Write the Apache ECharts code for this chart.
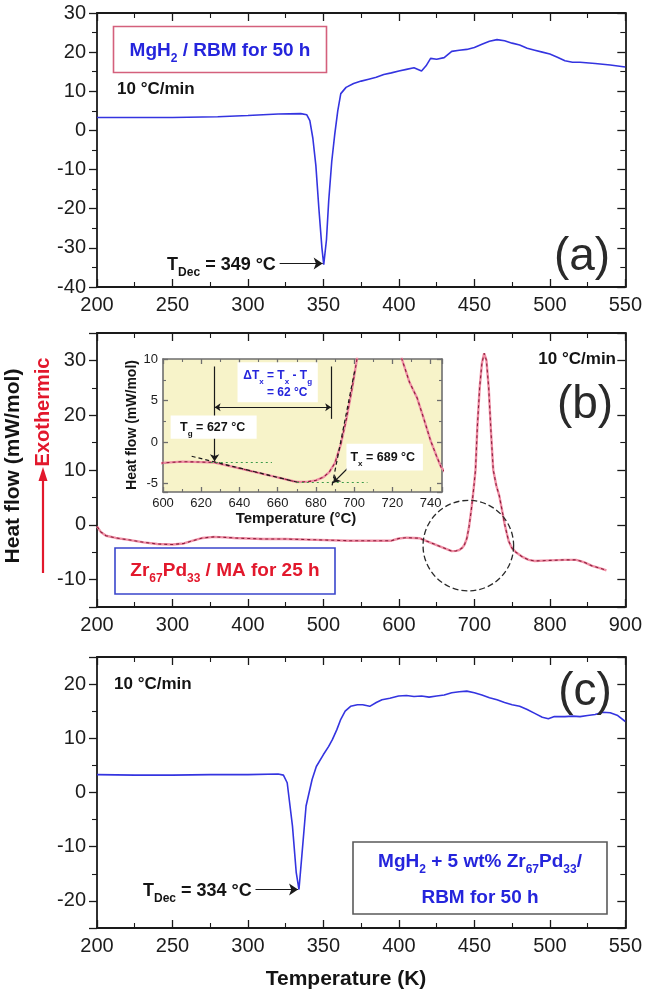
<!DOCTYPE html>
<html><head><meta charset="utf-8">
<script src="https://cdn.jsdelivr.net/npm/echarts@6/dist/echarts.min.js"></script>
<style>html,body{margin:0;padding:0;background:#fff}#c{width:645px;height:994px}</style>
</head><body><div id="c"></div>
<script>
// ---------- data ----------
// (a) MgH2 / RBM 50 h : temperature (K) vs heat flow (mW/mol)
const aTemp = [200,250,280,300,320,335,339,341,343,345,347,349,350.2,352,353.5,355.5,357.5,359.5,361.5,365,370,375,380,385,390,395,400,405,410,415,418,421,425,430,435,440,445,450,455,460,465,470,475,480,485,490,495,500,505,510,515,520,530,540,550];
const aHeat = [3.3,3.3,3.5,3.8,4.2,4.3,4.0,2.5,-2,-9,-20,-30,-34.3,-28,-18,-8,-1,5,9.4,11,12,12.6,13.1,13.6,14.3,14.7,15.2,15.6,16,15.2,16.5,18.4,18.2,18.6,20.2,20.5,20.7,21.2,22,22.8,23.2,22.9,22.3,21.8,21,20.5,20,19.5,18.7,17.8,17.4,17.4,17.1,16.7,16.2];
// (b) Zr67Pd33 / MA 25 h
const bTemp = [200,205,212,225,240,262,280,300,315,327,340,355,370,382,420,450,480,535,590,600,610,620,627,640,650,660,670,676,680,684,687,690,693,696,699,701.5,704,707,710,713,716,719,722,725,729,733,736.5,740,743,745.5,750,755,763,772,780,800,820,835,845,856,866,875];
const bHeat = [-0.3,-1.3,-2.0,-2.4,-2.7,-3.2,-3.5,-3.6,-3.4,-2.9,-2.4,-2.2,-2.3,-2.4,-2.6,-2.6,-2.7,-2.9,-2.9,-2.5,-2.35,-2.4,-2.45,-3.15,-3.7,-4.25,-4.8,-4.75,-4.6,-4.2,-3.6,-2.5,-0.3,2.8,6.5,10,18,25,29.5,31.3,30,25,17,10,7.2,5.3,2.8,0.2,-1.6,-3.0,-4.3,-5.0,-5.8,-6.4,-6.6,-6.5,-6.4,-6.4,-6.8,-7.5,-7.9,-8.3];
// (c) MgH2 + 5 wt% Zr67Pd33 / RBM 50 h
const cTemp = [200,225,250,275,300,320,323.5,326,329.5,332,333.8,335.7,338.5,342.5,345.3,350,353.5,356,358.9,361.5,364.4,368,372.5,376,380.7,385,388.8,394,399.8,405,410,415,420,425,430,435,440,445,450,455,460,465,470,475,480,485,490,495,499,503,510,515,520,525,530,535,540,545,550];
const cHeat = [3.3,3.2,3.2,3.3,3.3,3.4,3.2,1.8,-6.2,-14.8,-17.9,-11.7,-2.5,2.4,4.8,7,8.5,9.8,11.6,13.5,15,15.9,16.2,16.2,15.9,16.6,17.1,17.4,17.8,17.9,17.7,17.8,17.6,17.8,18,18.4,18.6,18.7,18.4,18,17.5,17.1,16.6,16.2,15.9,15.3,14.6,13.9,13.6,14,14,14.1,14,14.2,14.4,14.8,14.7,14.2,13.1];
// annotations (data coordinates)
const aDec = 349, cDec = 334;
const aDecArrow = [[321, -34], [349.5, -34]];
const cDecArrow = [[305, -17.9], [333.2, -17.9]];
const circleMark = [692, -3.8, 60];   // centre x, centre y, radius (K)
const tgValue = 627, txValue = 689, dTx = 62;
const tgArrow = [[627, 9.1], [627, -2.3]];
const txBar = [[688, 9.1], [688, 2.8]];
const deltaBar = [[627, 4.2], [688, 4.2]];
const tangent1 = [[615, -1.7], [670, -4.8]];
const base1 = [[625, -2.4], [657, -2.4]];
const base2 = [[670, -4.8], [707, -4.8]];
const tangent2 = [[688.5, -5.2], [700.5, 8.8]];
const txArrow = [[699, -2.6], [689, -4.9]];
// axis tick settings
const aX = {min:200, max:550, interval:50}, aY = {min:-40, max:30, interval:10};
const bX = {min:200, max:900, interval:100}, bY = {min:-15, max:35, split:5, step:10};
const cX = {min:200, max:550, interval:50}, cY = {min:-25, max:25, split:5, step:10};
const iX = {min:600, max:746, interval:20}, iY = {min:-6, max:10, split:3, step:5};

// ---------- chart ----------
const F = "'Liberation Sans', Arial, Helvetica, sans-serif";
const zip = (xs, ys) => xs.map((x, i) => [x, ys[i]]);
const chart = echarts.init(document.getElementById('c'));
const grids = [
  {left:97, top:13, width:531, height:274},
  {left:97, top:333, width:531, height:274},
  {left:97, top:657, width:531, height:271},
  {left:163, top:359, width:279, height:133, show:true, backgroundColor:'#f7f3c9', borderWidth:0, z:5}
];
const xAxes = [], yAxes = [];
function mkAxis(gi, pos, c, st, labeled) {
  const isY = pos === 'left' || pos === 'right';
  const step = c.step || c.interval;
  const ax = {
    gridIndex: gi, type: 'value', position: pos, min: c.min, max: c.max, z: st.z || 3,
    splitLine: {show: false},
    axisLine: {show: true, onZero: false, lineStyle: {color: st.color, width: st.lw}},
    axisTick: {show: true, inside: !(labeled && isY && st.outLeft), length: st.tl, lineStyle: {color: st.color, width: 1.3}},
    minorTick: {show: true, splitNumber: 2, length: st.ml, lineStyle: {color: st.color, width: 1.1}},
    axisLabel: {show: labeled, fontSize: st.fs, fontFamily: F, color: '#1c1c1c', margin: isY ? st.ym : st.xm,
      showMinLabel: true, showMaxLabel: !(st.hideMax && !isY),
      formatter: v => (Math.abs(Math.round(v / step) * step - v) < 1e-6 ? String(Math.round(v)) : '')}
  };
  if (c.interval) ax.interval = c.interval; else ax.splitNumber = c.split;
  return ax;
}
const mainSt = {color:'#1a1a1a', lw:1.8, tl:8, ml:5, fs:20, ym:11, xm:8, outLeft:true};
const insetSt = {color:'#6e6e6e', lw:1.6, tl:5, ml:3, fs:13, ym:5, xm:5, outLeft:false, hideMax:true, z:6};
[[0,aX,aY,mainSt],[1,bX,bY,mainSt],[2,cX,cY,mainSt],[3,iX,iY,insetSt]].forEach(([gi, X, Y, st]) => {
  xAxes.push(mkAxis(gi, 'bottom', X, st, true));
  xAxes.push(mkAxis(gi, 'top', X, st, false));
  yAxes.push(mkAxis(gi, 'left', Y, st, true));
  yAxes.push(mkAxis(gi, 'right', Y, st, false));
});

const blue = '#3434e0';
const pinkBase = {color:'#ef8ea4', width:2.4};
const pinkDash = {color:'#8c1c3c', width:1.1, type:[3,3]};
function ml(pair, style, s0, s1, size) {
  return [{coord: pair[0], symbol: s0 || 'none', symbolSize: size || 8, lineStyle: style},
          {coord: pair[1], symbol: s1 || 'none', symbolSize: size || 8}];
}
const darkLine = {color:'#1a1a1a', width:1.2, type:'solid'};
const dashDark = {color:'#1a1a1a', width:1.2, type:[4,3]};
const dotGreen = {color:'#3d9a4a', width:1.2, type:[2,3]};

const series = [
  {type:'line', xAxisIndex:0, yAxisIndex:0, data: zip(aTemp, aHeat), showSymbol:false, lineStyle:{color:blue, width:1.6},
   markLine:{silent:true, animation:false, label:{show:false}, data:[ml(aDecArrow, darkLine, 'none', 'arrow', 9)]}},
  {type:'line', xAxisIndex:2, yAxisIndex:2, data: zip(bTemp, bHeat), showSymbol:false, lineStyle: pinkBase},
  {type:'line', xAxisIndex:2, yAxisIndex:2, data: zip(bTemp, bHeat), showSymbol:false, lineStyle: pinkDash},
  {type:'custom', xAxisIndex:2, yAxisIndex:2, data:[circleMark], clip:false, silent:true, z:4,
   renderItem: (p, api) => {
     const c = api.coord([api.value(0), api.value(1)]);
     const r = api.size([api.value(2), 0])[0];
     return {type:'circle', shape:{cx:c[0], cy:c[1], r:r}, style:{fill:'none', stroke:'#2a2a2a', lineWidth:1.3, lineDash:[6,3]}};
   }},
  {type:'line', xAxisIndex:4, yAxisIndex:4, data: zip(cTemp, cHeat), showSymbol:false, lineStyle:{color:blue, width:1.6},
   markLine:{silent:true, animation:false, label:{show:false}, data:[ml(cDecArrow, darkLine, 'none', 'arrow', 9)]}},
  {type:'line', xAxisIndex:6, yAxisIndex:6, data: zip(bTemp, bHeat), showSymbol:false, lineStyle: pinkBase, z:7},
  {type:'line', xAxisIndex:6, yAxisIndex:6, data: zip(bTemp, bHeat), showSymbol:false, lineStyle: pinkDash, z:7,
   markLine:{silent:true, animation:false, label:{show:false}, z:8, data:[
     ml(tangent1, dashDark), ml(base1, dotGreen), ml(base2, dotGreen), ml(tangent2, dashDark),
     ml(tgArrow, darkLine, 'none', 'arrow', 7), ml(txBar, darkLine),
     ml(deltaBar, darkLine, 'arrow', 'arrow', 6), ml(txArrow, darkLine, 'none', 'arrow', 7)
   ]}}
];

chart.setOption({animation:false, backgroundColor:'#fff', grid:grids, xAxis:xAxes, yAxis:yAxes, series:series});

// ---------- text annotations ----------
const px = (gi, p) => chart.convertToPixel({gridIndex: gi}, p);
function txt(x, y, text, o) {
  o = o || {};
  return {type:'text', x:x, y:y, rotation:o.rot || 0, z:100,
    style:{text:text, fill:o.color || '#141414', fontSize:o.fs || 18, fontWeight:o.fw || 'bold', fontFamily:F,
      align:o.align || 'center', verticalAlign:o.va || 'middle', rich:o.rich}};
}
function box(x, y, w, h, stroke, lw) {
  return {type:'rect', z:95, shape:{x:x, y:y, width:w, height:h}, style:{fill:'#fff', stroke:stroke || 'none', lineWidth:lw || 1.5}};
}
function richSet(fs, color, sub) {
  return {
    n:{fontSize:fs, fontWeight:'bold', fontFamily:F, fill:color, lineHeight:fs + 8, verticalAlign:'middle'},
    s:{fontSize:sub, fontWeight:'bold', fontFamily:F, fill:color, lineHeight:fs + 8, verticalAlign:'bottom'}
  };
}
const red = '#e2182c', tblue = '#2525dc';
const g = [];
// axis titles
g.push(txt(13, 466, 'Heat flow (mW/mol)', {fs:21, rot:Math.PI / 2}));
g.push(txt(43, 412, 'Exothermic', {fs:20, rot:Math.PI / 2, color:red}));
g.push({type:'line', z:100, shape:{x1:43, y1:573, x2:43, y2:478}, style:{stroke:red, lineWidth:2.2}});
g.push({type:'polygon', z:100, shape:{points:[[43, 467], [38.5, 481], [47.5, 481]]}, style:{fill:red}});
g.push(txt(346, 979, 'Temperature (K)', {fs:21}));
// panel (a)
g.push(box(113.5, 26.5, 213, 46, '#d4607c', 1.6));
g.push(txt(220, 51, '{n|MgH}{s|2}{n| / RBM for 50 h}', {rich: richSet(19, tblue, 12)}));
g.push(txt(117, 89, '10 °C/min', {fs:17, align:'left'}));
g.push(txt(582, 257, '(a)', {fs:46, fw:'normal', color:'#2a2a2a'}));
let p = px(0, [aDecArrow[0][0] - 2.5, aDecArrow[0][1]]);
g.push(txt(p[0], p[1] + 2, '{n|T}{s|Dec}{n| = ' + aDec + ' °C}', {align:'right', rich: richSet(18, '#141414', 12)}));
// panel (b)
g.push(txt(616, 359, '10 °C/min', {fs:17, align:'right'}));
g.push(txt(585, 405, '(b)', {fs:46, fw:'normal', color:'#2a2a2a'}));
g.push(box(115, 548, 220, 46, '#3a46cc', 1.6));
g.push(txt(225, 571, '{n|Zr}{s|67}{n|Pd}{s|33}{n| / MA for 25 h}', {rich: richSet(19, red, 12)}));
// inset labels
g.push(txt(132, 425, 'Heat flow (mW/mol)', {fs:14, rot:Math.PI / 2}));
g.push(txt(296, 519, 'Temperature (°C)', {fs:15}));
let b0 = px(3, [604, 3.2]), b1 = px(3, [649, 0.4]);
g.push(box(b0[0], b0[1], b1[0] - b0[0], b1[1] - b0[1]));
p = px(3, [626, 1.8]);
g.push(txt(p[0], p[1], '{n|T}{s|g}{n| = ' + tgValue + ' °C}', {rich: richSet(12.5, '#141414', 8)}));
b0 = px(3, [639, 9.6]); b1 = px(3, [681, 4.8]);
g.push(box(b0[0], b0[1], b1[0] - b0[0], b1[1] - b0[1]));
p = px(3, [660, 8.0]);
g.push(txt(p[0], p[1], '{n|ΔT}{s|x}{n| = T}{s|x}{n| - T}{s|g}', {rich: richSet(12, tblue, 8)}));
p = px(3, [665, 5.9]);
g.push(txt(p[0], p[1], '= ' + dTx + ' °C', {fs:12, color:tblue}));
b0 = px(3, [696, -0.2]); b1 = px(3, [736, -3.4]);
g.push(box(b0[0], b0[1], b1[0] - b0[0], b1[1] - b0[1]));
p = px(3, [715, -1.8]);
g.push(txt(p[0], p[1], '{n|T}{s|x}{n| = ' + txValue + ' °C}', {rich: richSet(12.5, '#141414', 8)}));
// panel (c)
g.push(txt(114, 684, '10 °C/min', {fs:17, align:'left'}));
g.push(txt(585, 692, '(c)', {fs:46, fw:'normal', color:'#2a2a2a'}));
g.push(box(353, 842, 254, 72, '#5a5a5a', 1.6));
g.push(txt(480, 862, '{n|MgH}{s|2}{n| + 5 wt% Zr}{s|67}{n|Pd}{s|33}{n|/}', {rich: richSet(19, tblue, 12)}));
g.push(txt(480, 898, 'RBM for 50 h', {fs:19, color:tblue}));
p = px(2, [cDecArrow[0][0] - 2.5, cDecArrow[0][1]]);
g.push(txt(p[0], p[1] + 2, '{n|T}{s|Dec}{n| = ' + cDec + ' °C}', {align:'right', rich: richSet(18, '#141414', 12)}));

chart.setOption({graphic: {elements: g}});
</script></body></html>
